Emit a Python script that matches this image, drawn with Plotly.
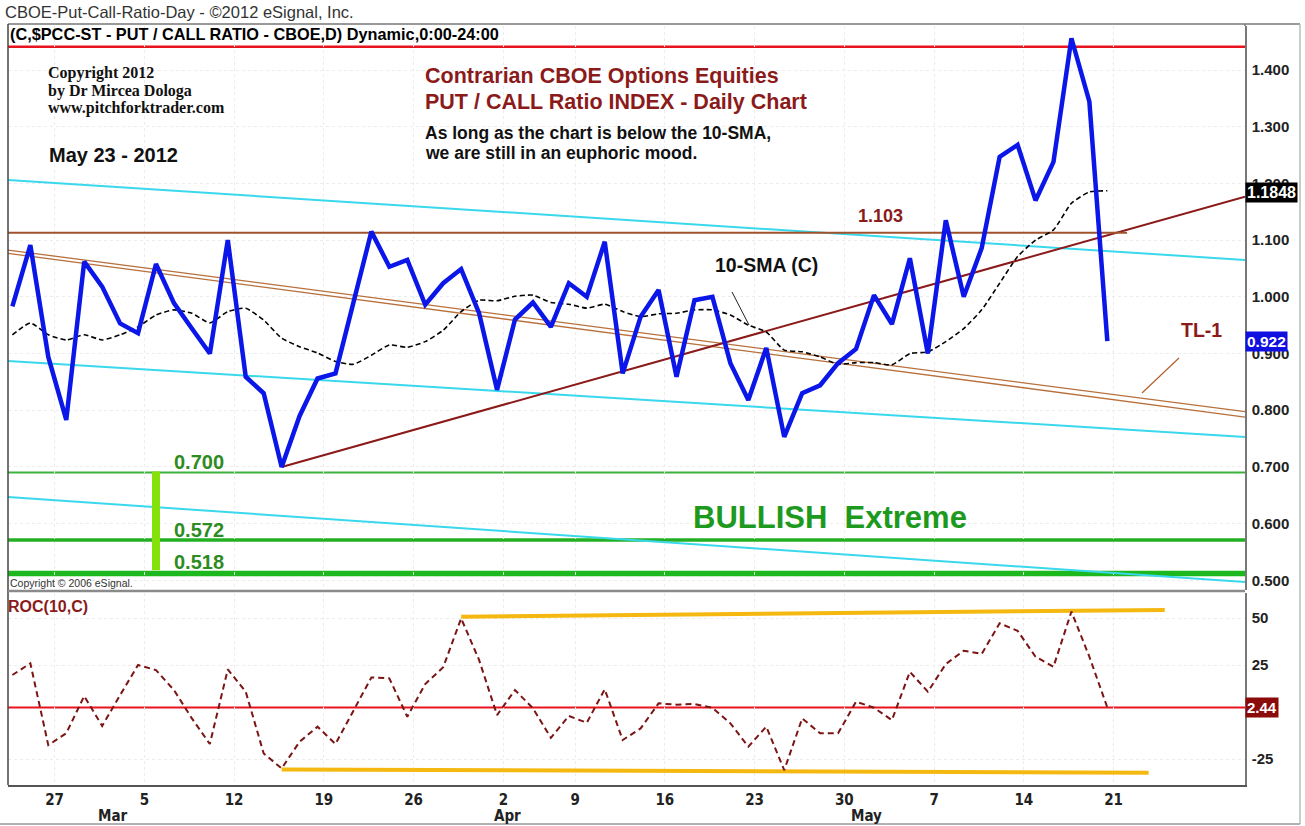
import pandas as pd
import plotly.graph_objects as go

# ---------------- data ----------------
trade_days = [d for d in pd.bdate_range("2012-02-23", "2012-05-21") if d != pd.Timestamp("2012-04-06")]
day_index = list(range(len(trade_days)))

put_call = [0.983, 1.091, 0.894, 0.783, 1.062, 1.018, 0.953, 0.936, 1.058, 0.989,
            0.944, 0.900, 1.100, 0.859, 0.830, 0.700, 0.790, 0.856, 0.865, 0.990,
            1.115, 1.053, 1.065, 0.986, 1.024, 1.049, 0.971, 0.836, 0.960, 0.990,
            0.947, 1.024, 1.000, 1.097, 0.865, 0.965, 1.012, 0.859, 0.994, 1.000,
            0.883, 0.818, 0.910, 0.753, 0.830, 0.844, 0.883, 0.908, 1.003, 0.952,
            1.068, 0.900, 1.135, 1.000, 1.086, 1.247, 1.268, 1.170, 1.238, 1.456,
            1.344, 0.922]

sma10 = [0.933, 0.954, 0.933, 0.924, 0.933, 0.924, 0.933, 0.947, 0.968, 0.977,
         0.971, 0.954, 0.974, 0.980, 0.959, 0.927, 0.912, 0.901, 0.886, 0.881,
         0.897, 0.915, 0.911, 0.921, 0.941, 0.974, 0.994, 0.993, 1.001, 1.003,
         0.990, 0.987, 0.980, 0.987, 0.974, 0.965, 0.970, 0.971, 0.977, 0.977,
         0.968, 0.950, 0.938, 0.906, 0.903, 0.894, 0.881, 0.884, 0.884, 0.880,
         0.900, 0.903, 0.921, 0.944, 0.977, 1.024, 1.071, 1.100, 1.118, 1.165,
         1.185, 1.187]

roc10 = [19.7, 25.9, -17.6, -11.3, 8.5, -7.4, 9.0, 25.0, 22.3, 11.7,
         -3.4, -17.0, 22.7, 10.8, -22.0, -30.0, -15.8, -7.8, -17.0, 1.1,
         18.4, 17.9, -2.5, 14.9, 23.8, 49.8, 27.7, -1.6, 11.7, 2.0,
         -13.7, -2.1, -5.7, 12.1, -14.9, -8.7, 4.6, 3.9, 4.3, 2.2,
         -6.0, -18.4, -7.8, -30.9, -3.4, -11.3, -11.3, 5.5, 2.3, -4.3,
         21.4, 10.8, 25.5, 32.6, 30.9, 47.2, 43.2, 29.4, 24.1, 53.4,
         29.4, 2.44]

tick_dates = ["2012-02-27", "2012-03-05", "2012-03-12", "2012-03-19", "2012-03-26",
              "2012-04-02", "2012-04-09", "2012-04-16", "2012-04-23", "2012-04-30",
              "2012-05-07", "2012-05-14", "2012-05-21"]
tick_labels = ["27", "5", "12", "19", "26", "2", "9", "16", "23", "30", "7", "14", "21"]
month_dates = ["2012-03-01", "2012-04-02", "2012-05-01"]
month_labels = ["Mar", "Apr", "May"]

price_ticks = [0.5, 0.6, 0.7, 0.8, 0.9, 1.0, 1.1, 1.2, 1.3, 1.4]
roc_ticks = [-25, 25, 50]

# axis ranges (trading-day index / values)
X_LEFT, X_RIGHT = -0.245, 68.67
PRICE_RANGE = [0.483, 1.4776]
ROC_RANGE = [-38.8, 63.3]

# drawn trend / channel lines: (x0, y0, x1, y1) in day index and value
cyan_lines = [(X_LEFT, 1.206, X_RIGHT, 1.065),
              (X_LEFT, 0.887, X_RIGHT, 0.753),
              (X_LEFT, 0.647, X_RIGHT, 0.497)]
brown_double = [(X_LEFT, 1.0825, X_RIGHT, 0.7974),
                (X_LEFT, 1.0767, X_RIGHT, 0.7880)]
rising_trend = (15, 0.700, X_RIGHT, 1.1766)
level_1103 = (X_LEFT, 1.113, 62.1, 1.113)
red_top_level = 1.441
green_levels = [(0.690, 2, "#3cb43c"), (0.571, 3.5, "#22b022"), (0.5123, 5.5, "#1db81d")]
lime_bar = (8, 0.518, 8, 0.692)
roc_upper = (25, 50.7, 64.2, 54.3)
roc_lower = (15, -30.5, 63.3, -32.3)
roc_level = 2.44
sma_last = 1.1848
close_last = 0.922

# ---------------- layout helpers ----------------
L, R, T, B = 8, 1245, 26, 785
W, H = 1305, 826


def P(xpx, ypx):
    return (xpx - L) / (R - L), (B - ypx) / (B - T)


main_dom = [(B - 590) / (B - T), 1.0]
roc_dom = [0.0, (B - 593) / (B - T)]

date_pos = {d.strftime("%Y-%m-%d"): i for i, d in enumerate(trade_days)}
TICK_SHIFT = 0.35
tick_vals = [date_pos[d] + TICK_SHIFT for d in tick_dates]

fig = go.Figure()


def seg(line, color, width, yaxis="y", dash=None):
    x0, y0, x1, y1 = line
    fig.add_trace(go.Scatter(x=[x0, x1], y=[y0, y1], mode="lines", yaxis=yaxis,
                             line=dict(color=color, width=width, dash=dash),
                             hoverinfo="skip"))


for ln in cyan_lines:
    seg(ln, "#3ad8ec", 2)
for ln in brown_double:
    seg(ln, "#b8703c", 1.3)
seg(rising_trend, "#8b1a1a", 2)
seg(level_1103, "#a0522d", 2)
seg(lime_bar, "#84e10a", 8)

fig.add_trace(go.Scatter(x=day_index, y=sma10, mode="lines", yaxis="y",
                         line=dict(color="black", width=1.6, dash="5px,3px",
                                   shape="spline", smoothing=0.5),
                         hoverinfo="skip"))
fig.add_trace(go.Scatter(x=day_index, y=put_call, mode="lines", yaxis="y",
                         line=dict(color="#0b17e8", width=4.5)))

seg(roc_upper, "#f5b810", 4, yaxis="y2")
seg(roc_lower, "#f5b810", 4, yaxis="y2")
fig.add_trace(go.Scatter(x=day_index, y=roc10, mode="lines", yaxis="y2",
                         line=dict(color="#7b1414", width=2, dash="6px,4px")))

shapes = []
shapes.append(dict(type="line", xref="paper", x0=0, x1=1, yref="y", y0=red_top_level,
                   y1=red_top_level, line=dict(color="#e8141e", width=2.5), layer="below"))
for lvl, w, c in green_levels:
    shapes.append(dict(type="line", xref="paper", x0=0, x1=1, yref="y", y0=lvl, y1=lvl,
                       line=dict(color=c, width=w), layer="below"))
shapes.append(dict(type="line", xref="paper", x0=0, x1=1, yref="y2", y0=roc_level,
                   y1=roc_level, line=dict(color="#e8141e", width=2), layer="below"))


def pline(x0, y0, x1, y1, color="#555", width=1):
    a, b = P(x0, y0)
    c, d = P(x1, y1)
    shapes.append(dict(type="line", xref="paper", yref="paper", x0=a, y0=b, x1=c, y1=d,
                       line=dict(color=color, width=width)))


# frame lines
pline(8, 24, 1300, 24, "#777", 1.5)
pline(8, 24, 8, 785, "#444", 1.5)
pline(1245, 24, 1245, 26, "#777", 1.5)
pline(8, 591, 1245, 591, "#8a8a8a", 2.5)
pline(1300, 24, 1300, 824, "#bbbbbb", 1.5)
pline(0, 824, 1300, 824, "#999999", 1.5)
# leader lines
pline(732, 292, 749, 325, "#222", 1)
pline(1179, 358, 1142, 393, "#b06030", 1.2)

ann = []


def text(xpx, ypx, s, size, color="black", bold=True, family="Liberation Sans, Arial",
         xanchor="left", **kw):
    x, y = P(xpx, ypx)
    ann.append(dict(xref="paper", yref="paper", x=x, y=y, text=s, showarrow=False,
                    xanchor=xanchor, yanchor="middle",
                    font=dict(size=size, color=color, family=family,
                              weight="bold" if bold else "normal"), **kw))


text(3, 12, "CBOE-Put-Call-Ratio-Day - ©2012 eSignal, Inc.", 16.5, "#333", bold=False)
text(8, 34, "(C,$PCC-ST - PUT / CALL RATIO - CBOE,D) Dynamic,0:00-24:00", 16.3, "black")
serif = "Liberation Serif, Times New Roman"
text(46, 73, "Copyright 2012", 16, "#111", family=serif)
text(46, 91, "by Dr Mircea Dologa", 16, "#111", family=serif)
text(46, 108, "www.pitchforktrader.com", 16, "#111", family=serif)
text(47, 155, "May 23 - 2012", 20, "#111")
text(423, 76, "Contrarian CBOE Options Equities", 21.5, "#8b1a1a")
text(423, 102, "PUT / CALL Ratio INDEX - Daily Chart", 21.5, "#8b1a1a")
text(423, 133, "As long as the chart is below the 10-SMA,", 17.5, "#111")
text(423, 153, "we are still in an euphoric mood.", 17.5, "#111")
text(880, 216, "1.103", 18, "#8b1a1a", xanchor="center")
text(766, 265, "10-SMA (C)", 19.5, "#111", xanchor="center")
text(1201, 330, "TL-1", 19.5, "#8b1a1a", xanchor="center")
text(172, 462, "0.700", 20, "#2e8b22")
text(172, 530, "0.572", 20, "#2e8b22")
text(172, 562, "0.518", 20, "#2e8b22")
text(830, 517, "BULLISH  Extreme", 31, "#1d9a1d", xanchor="center")
text(8, 583, "Copyright © 2006 eSignal.", 10.5, "#333", bold=False)
text(6, 606, "ROC(10,C)", 16, "#8b1a1a")

# right-axis value boxes
for yref, val, s, bg, fs in [("y", sma_last, "1.1848", "black", 16),
                             ("y", close_last, "0.922", "#1010e0", 15.5),
                             ("y2", roc_level, "2.44", "#8b0a0a", 15)]:
    ann.append(dict(xref="paper", x=1.0, yref=yref, y=val, text=s, showarrow=False,
                    xanchor="left", yanchor="middle", bgcolor=bg, borderpad=1,
                    font=dict(size=fs, color="white", family="Liberation Sans, Arial",
                              weight="bold")))

# month labels
narrow = "Liberation Sans Narrow, Arial Narrow, DejaVu Sans Condensed"
for d, s in zip(month_dates, month_labels):
    ann.append(dict(xref="x", x=date_pos[d] + 0.6, yref="paper", y=P(0, 816)[1], text=s,
                    showarrow=False, xanchor="center", yanchor="middle",
                    font=dict(size=15, color="#222", family=narrow, weight="bold")))

axis_font = dict(size=15, color="#222", family="Liberation Sans, Arial", weight="bold")
fig.update_layout(
    width=W, height=H,
    margin=dict(l=L, r=W - R, t=T, b=H - B),
    paper_bgcolor="white", plot_bgcolor="white",
    showlegend=False,
    xaxis=dict(domain=[0, 1], anchor="y2", range=[X_LEFT, X_RIGHT],
               tickmode="array", tickvals=tick_vals, ticktext=tick_labels,
               tickfont=dict(size=15, color="#222", family=narrow, weight="bold"),
               showgrid=True, gridcolor="#ececec", griddash="dot",
               showline=True, linecolor="#555", linewidth=1.5, zeroline=False,
               ticks=""),
    yaxis=dict(domain=main_dom, anchor="x", side="right", range=PRICE_RANGE,
               tickmode="array", tickvals=price_ticks,
               ticktext=[f"{v:.3f}" for v in price_ticks], tickfont=axis_font,
               showgrid=True, gridcolor="#ececec", griddash="dot",
               showline=True, linecolor="#777", linewidth=1.5, zeroline=False,
               ticks="", ticklabelstandoff=2),
    yaxis2=dict(domain=roc_dom, anchor="x", side="right", range=ROC_RANGE,
                tickmode="array", tickvals=roc_ticks,
                ticktext=[str(v) for v in roc_ticks], tickfont=axis_font,
                showgrid=True, gridcolor="#ececec", griddash="dot",
                showline=True, linecolor="#777", linewidth=1.5, zeroline=False,
                ticks="", ticklabelstandoff=2),
    shapes=shapes,
    annotations=ann,
)

fig.write_html("out.html", config={"displayModeBar": False},
               post_script="document.body.style.margin='0';document.body.style.overflow='hidden';")
